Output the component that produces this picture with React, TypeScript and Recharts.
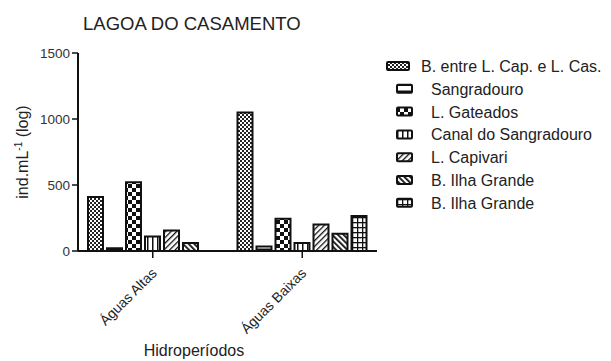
import React from 'react';
import { BarChart, Bar, XAxis, YAxis } from 'recharts';

const periods = ['Águas Altas', 'Águas Baixas'];
const seriesNames = [
  'B. entre L. Cap. e L. Cas.',
  'Sangradouro',
  'L. Gateados',
  'Canal do Sangradouro',
  'L. Capivari',
  'B. Ilha Grande',
  'B. Ilha Grande',
];
const s1 = [410, 1050];
const s2 = [20, 35];
const s3 = [520, 245];
const s4 = [110, 60];
const s5 = [155, 200];
const s6 = [60, 130];
const s7 = [0, 265];
const yTicks = [0, 500, 1000, 1500];

const series = [s1, s2, s3, s4, s5, s6, s7];
const data = periods.map((p, i) => {
  const row: Record<string, string | number> = { period: p };
  series.forEach((s, k) => {
    row['s' + k] = s[i];
  });
  return row;
});

const font = '"Liberation Sans", Arial, sans-serif';

// fill patterns, one per site
const Patterns = ({ prefix }: { prefix: string }) => (
  <defs>
    <pattern id={prefix + '0'} patternUnits="userSpaceOnUse" width="4" height="4">
      <rect width="4" height="4" fill="#fff" />
      <rect x="0" y="0" width="2" height="2" fill="#222" />
      <rect x="2" y="2" width="2" height="2" fill="#222" />
    </pattern>
    <pattern id={prefix + '1'} patternUnits="userSpaceOnUse" width="6" height="6">
      <rect width="6" height="6" fill="#fff" />
      <rect x="0" y="2.5" width="6" height="1.5" fill="#111" />
    </pattern>
    <pattern id={prefix + '2'} patternUnits="userSpaceOnUse" width="8" height="8">
      <rect width="8" height="8" fill="#fff" />
      <rect x="0" y="0" width="4" height="4" fill="#111" />
      <rect x="4" y="4" width="4" height="4" fill="#111" />
    </pattern>
    <pattern id={prefix + '3'} patternUnits="userSpaceOnUse" width="5" height="5">
      <rect width="5" height="5" fill="#fff" />
      <rect x="2" y="0" width="1.5" height="5" fill="#111" />
    </pattern>
    <pattern id={prefix + '4'} patternUnits="userSpaceOnUse" width="4" height="4" patternTransform="rotate(45)">
      <rect width="4" height="4" fill="#fff" />
      <rect x="0" y="0" width="1.3" height="4" fill="#111" />
    </pattern>
    <pattern id={prefix + '5'} patternUnits="userSpaceOnUse" width="4" height="4" patternTransform="rotate(-45)">
      <rect width="4" height="4" fill="#fff" />
      <rect x="0" y="0" width="1.8" height="4" fill="#111" />
    </pattern>
    <pattern id={prefix + '6'} patternUnits="userSpaceOnUse" width="5" height="5">
      <rect width="5" height="5" fill="#fff" />
      <rect x="2" y="0" width="1.3" height="5" fill="#111" />
      <rect x="0" y="2" width="5" height="1.3" fill="#111" />
    </pattern>
  </defs>
);

const XTick = (props: any) => {
  const { x, y, payload } = props;
  const ax = x + 5;
  const ay = y + 14;
  return (
    <text
      x={ax}
      y={ay}
      textAnchor="end"
      transform={`rotate(-45, ${ax}, ${ay})`}
      fontSize={14}
      fill="#222"
      fontFamily={font}
    >
      {payload.value}
    </text>
  );
};

const XLabel = () => (
  <text x={194} y={356} textAnchor="middle" fontSize={16} fill="#222" fontFamily={font}>
    Hidroperíodos
  </text>
);

const YLabel = () => {
  const cx = 28;
  const cy = 152;
  return (
    <text
      x={cx}
      y={cy}
      transform={`rotate(-90, ${cx}, ${cy})`}
      textAnchor="middle"
      fontSize={16}
      fill="#222"
      fontFamily={font}
    >
      ind.mL
      <tspan dy={-6} fontSize={10}>-1</tspan>
      <tspan dy={6}> (log)</tspan>
    </text>
  );
};

const Legend = () => (
  <svg width={230} height={170} style={{ position: 'absolute', left: 380, top: 52 }}>
    <Patterns prefix="lp" />
    {seriesNames.map((name, i) => {
      const cy = 14 + i * 22.8;
      const first = i === 0;
      const ix = first ? 7 : 17;
      const iw = first ? 22 : 15;
      return (
        <g key={i}>
          <rect x={ix} y={cy - 4} width={iw} height={8} fill={`url(#lp${i})`} stroke="#111" strokeWidth={2} rx={1} />
          <text x={first ? 41 : 51} y={cy + 6} fontSize={16} fill="#222" fontFamily={font}>
            {name}
          </text>
        </g>
      );
    })}
  </svg>
);

export default function App() {
  return (
    <div style={{ position: 'absolute', left: 0, top: 0, width: 611, height: 361, background: '#fff' }}>
      <div
        style={{
          position: 'absolute',
          left: 83,
          top: 13,
          fontFamily: font,
          fontSize: 18.5,
          color: '#222',
          whiteSpace: 'nowrap',
        }}
      >
        LAGOA DO CASAMENTO
      </div>
      <BarChart
        width={611}
        height={361}
        data={data}
        margin={{ top: 53, right: 234, bottom: 0, left: 0 }}
        barSize={15}
        barGap={4}
        style={{ position: 'absolute', left: 0, top: 0 }}
      >
        <Patterns prefix="bp" />
        <XAxis
          dataKey="period"
          axisLine={{ stroke: '#111', strokeWidth: 2 }}
          tickLine={{ stroke: '#111', strokeWidth: 1.5 }}
          tickSize={7}
          tick={<XTick />}
          interval={0}
          height={110}
          label={<XLabel />}
        />
        <YAxis
          width={78}
          domain={[0, 1500]}
          ticks={yTicks}
          axisLine={{ stroke: '#111', strokeWidth: 2 }}
          tickLine={{ stroke: '#111', strokeWidth: 1.5 }}
          tickSize={6}
          tick={{ fontSize: 13.5, fill: '#333', fontFamily: font }}
          label={<YLabel />}
        />
        {series.map((_, k) => (
          <Bar
            key={k}
            dataKey={'s' + k}
            name={seriesNames[k]}
            fill={`url(#bp${k})`}
            stroke="#111"
            strokeWidth={2}
            isAnimationActive={false}
          />
        ))}
      </BarChart>
      <Legend />
    </div>
  );
}
